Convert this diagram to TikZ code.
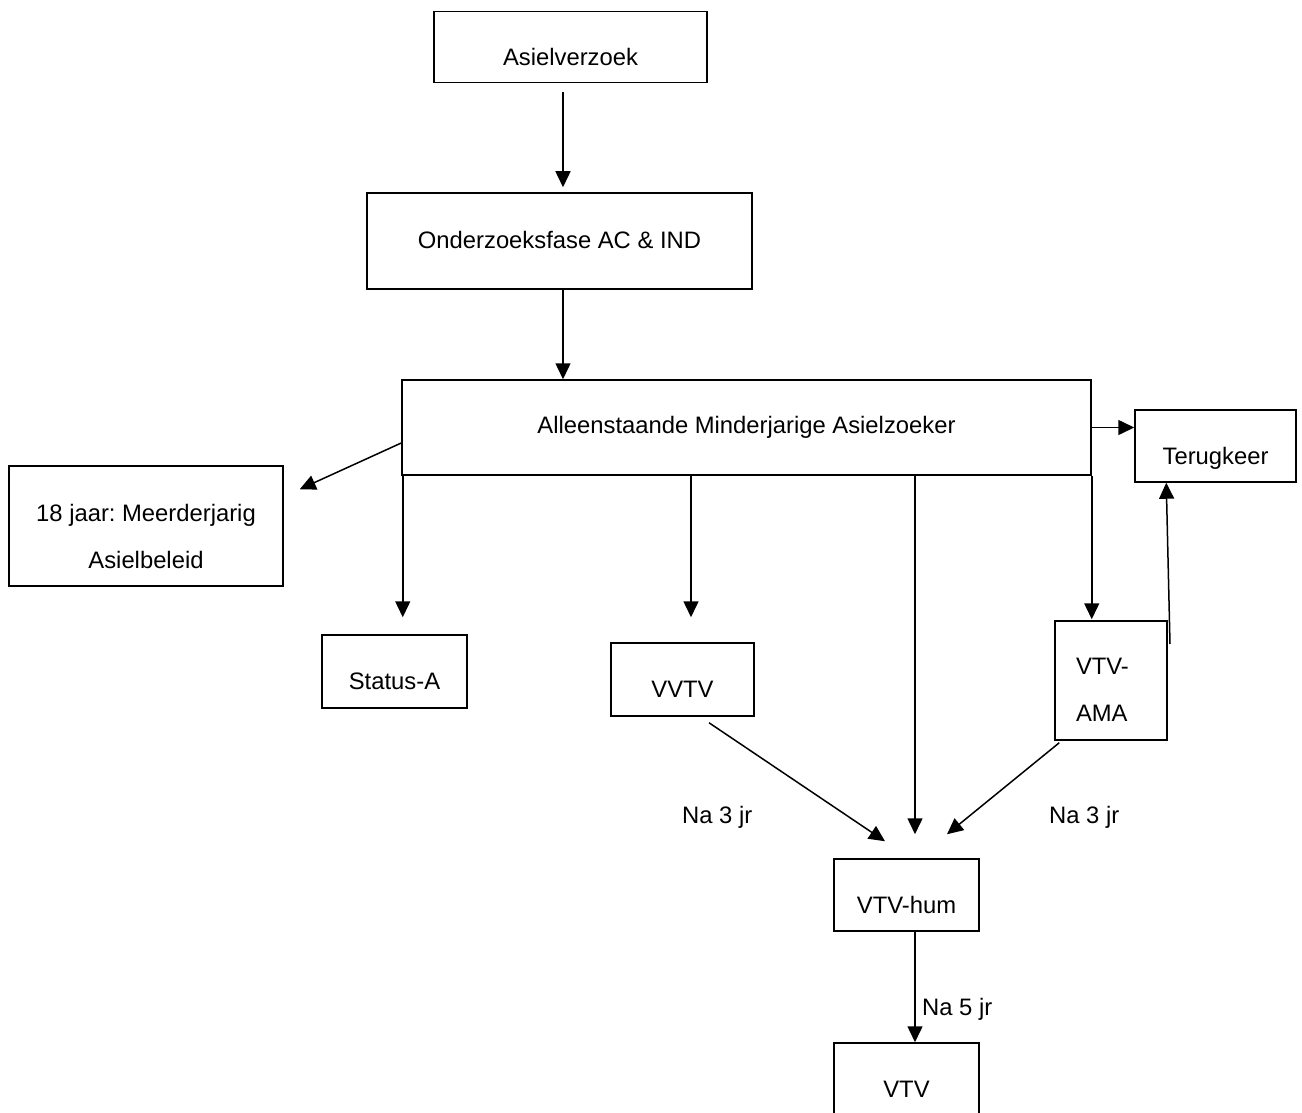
\documentclass[tikz,border=0pt]{standalone}
\usepackage{fontspec}
\setmainfont{Liberation Sans}
\frenchspacing
\usetikzlibrary{arrows.meta,calc}
\begin{document}
\begin{tikzpicture}[x=1pt,y=-1pt,
  box/.style={draw=black,line width=1.5pt,rectangle,inner sep=0pt,
    font=\fontsize{23.8}{28.6}\selectfont,text depth=0pt},
  mbox/.style={draw=black,line width=1.5pt,rectangle,inner sep=0pt,
    font=\fontsize{23.8}{47}\selectfont,text height=0pt},
  lbl/.style={inner sep=0pt,anchor=base west,font=\fontsize{23.8}{28.6}\selectfont},
  arr/.style={line width=1.5pt,-{Triangle[length=16pt,width=15pt]}},
  ln/.style={line width=1.5pt}]
\useasboundingbox (0,0) rectangle (1302,1113);

\node[box,minimum width=273pt,minimum height=71pt,text height=36pt] (av) at (570.5,47.25) {Asielverzoek};
\node[box,minimum width=385pt,minimum height=96pt,text height=14pt] (oz) at (559.5,241) {Onderzoeksfase AC \& IND};
\node[box,minimum width=689pt,minimum height=95pt,text height=11pt] (ama) at (746.5,427.5) {Alleenstaande Minderjarige Asielzoeker};
\node[box,minimum width=161pt,minimum height=72pt,text height=36pt] (tk) at (1215.5,446) {Terugkeer};
\node[mbox,minimum width=274pt,minimum height=120pt,text depth=10pt] (mj) at (146,526)
  {\begin{tabular}[t]{@{}c@{}}18 jaar: Meerderjarig\\Asielbeleid\end{tabular}};
\node[box,minimum width=145pt,minimum height=73pt,text height=35pt] (sa) at (394.5,671.5) {Status-A};
\node[box,minimum width=143pt,minimum height=73pt,text height=35pt] (vvtv) at (682.5,679.5) {VVTV};
\node[mbox,minimum width=112pt,minimum height=119pt,text depth=13pt] (vama) at (1111,680.5)
  {\begin{tabular}[t]{@{}p{70pt}@{}}VTV-\\AMA\end{tabular}};
\node[box,minimum width=145pt,minimum height=72pt,text height=36pt] (vh) at (906.5,895) {VTV-hum};
\node[box,minimum width=145pt,minimum height=72pt,text height=36pt] (vtv) at (906.5,1079) {VTV};

\node[lbl] (l1) at (682,823) {Na 3 jr};
\node[lbl] (l2) at (1049,823) {Na 3 jr};
\node[lbl] (l3) at (922,1015) {Na 5 jr};

\coordinate (vamaup) at (1170,644);

\draw[arr,shorten <=9pt,shorten >=5pt] ([xshift=-7.5pt]av.south) -- ([xshift=-7.5pt]av.south |- oz.north);
\draw[arr] ([xshift=3.5pt]oz.south) -- ([xshift=3.5pt]oz.south |- ama.north);
\draw[arr] ([yshift=-15.5pt]ama.west) -- ([shift={(16pt,-24pt)}]mj.north east);
\draw[arr,shorten >=17pt] ([xshift=1.5pt]ama.south west) -- ([xshift=1.5pt]ama.south west |- sa.north);
\draw[arr,shorten >=25pt] ([xshift=8.5pt]vvtv.north |- ama.south) -- ([xshift=8.5pt]vvtv.north);
\draw[arr,shorten >=24pt] ([xshift=8.5pt]vh.north |- ama.south) -- ([xshift=8.5pt]vh.north);
\draw[arr,shorten >=1pt] (ama.south east) -- (ama.south east |- vama.north);
\draw[arr] (ama.east) -- (ama.east -| tk.west);
\draw[arr] (vamaup) -- ([xshift=32pt]tk.south west);
\draw[arr] ([shift={(26.5pt,-6pt)}]vvtv.south) -- ([shift={(-21.5pt,17pt)}]vh.north);
\draw[arr] ([shift={(5pt,-2pt)}]vama.south west) -- ([shift={(40.5pt,24pt)}]vh.north);
\draw[arr] ([xshift=8.5pt]vh.south) -- ([xshift=8.5pt]vh.south |- vtv.north);
\end{tikzpicture}
\end{document}
